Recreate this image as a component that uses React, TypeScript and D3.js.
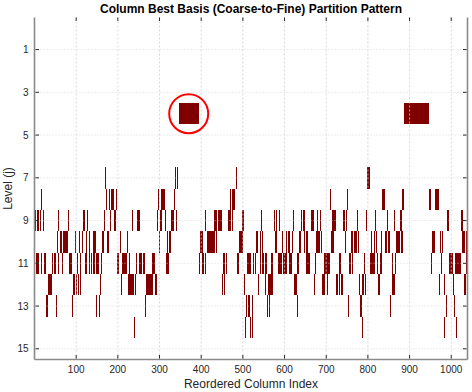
import React from "react";
import * as d3 from "d3";

const titleText = "Column Best Basis (Coarse-to-Fine) Partition Pattern";
const xLabelText = "Reordered Column Index";
const yLabelText = "Level (j)";

const xTicks = [100, 200, 300, 400, 500, 600, 700, 800, 900, 1000];
const yTicks = [1, 3, 5, 7, 9, 11, 13, 15];

// column index intervals [start, end] per level
const level4: [number, number][] = [[347, 393], [887, 946]];
const level7: [number, number][] = [[169, 171], [338, 339], [342, 343], [483, 485], [798, 804]];
const level8: [number, number][] = [
  [15, 17], [171, 173], [179, 181], [183, 190], [195, 196], [296, 298], [303, 312], [335, 336],
  [469, 471], [473, 480], [709, 711], [750, 751], [834, 839], [883, 886], [947, 951], [961, 970],
];
const level9: [number, number][] = [
  [1, 3], [6, 11], [14, 15], [20, 22], [56, 58], [80, 82], [116, 121], [126, 128], [166, 168],
  [180, 182], [190, 195], [234, 235], [246, 251], [294, 295], [301, 304], [312, 314], [327, 334], [339, 340],
  [409, 411], [431, 436], [441, 449], [464, 471], [474, 475], [499, 501],
  [543, 545], [575, 576], [580, 582], [586, 588], [620, 622], [639, 642], [644, 648], [663, 670], [677, 679], [684, 686],
  [714, 717], [719, 723], [740, 745], [747, 748], [774, 775], [795, 797], [817, 819], [846, 847], [862, 863], [876, 881],
  [990, 993], [1023, 1027],
];
const level10: [number, number][] = [
  [54, 55], [61, 66], [68, 80], [97, 99], [106, 107], [115, 116], [124, 126], [131, 133], [141, 147], [162, 166], [174, 178],
  [204, 207], [222, 223], [299, 300], [317, 319], [322, 326],
  [397, 404], [413, 431], [435, 437], [491, 500], [531, 535],
  [541, 543], [546, 547], [577, 581], [593, 595], [603, 605], [609, 611], [618, 619], [635, 639], [646, 647], [651, 655],
  [676, 679], [681, 684], [688, 690],
  [711, 713], [715, 718], [745, 747], [759, 764], [767, 773], [776, 778], [807, 809], [814, 815], [819, 820], [831, 832],
  [840, 846], [848, 851], [867, 877], [880, 883],
  [954, 960], [973, 975], [978, 979], [1027, 1031], [1036, 1039],
];
const level11: [number, number][] = [
  [3, 5], [7, 9], [15, 18], [23, 27], [42, 44], [47, 51], [56, 58], [66, 67], [82, 90], [102, 103], [109, 110],
  [121, 126], [130, 132], [135, 138], [141, 144], [148, 153], [160, 162],
  [198, 203], [210, 221], [226, 227], [243, 245], [250, 257], [260, 264], [283, 288], [315, 317], [319, 322],
  [395, 396], [403, 405], [410, 411], [452, 457], [460, 462], [485, 489], [509, 518], [524, 526], [528, 530],
  [540, 542], [547, 550], [554, 557], [568, 571], [584, 587], [589, 593], [596, 606], [611, 617], [631, 633],
  [651, 653], [655, 659], [674, 675], [694, 702], [703, 706],
  [707, 709], [730, 731], [733, 735], [755, 759], [763, 764], [791, 792], [805, 808], [810, 815], [822, 824], [829, 833],
  [858, 859], [864, 867],
  [951, 953], [975, 977], [995, 1003], [1009, 1012], [1014, 1023], [1035, 1038],
];
const level12: [number, number][] = [
  [32, 42], [92, 97], [99, 101], [104, 107], [110, 111], [157, 159],
  [207, 209], [224, 227], [228, 233], [235, 237], [240, 243], [268, 283], [289, 293],
  [450, 451], [455, 457], [503, 504],
  [536, 538], [552, 554], [561, 564], [566, 571], [622, 630], [671, 672], [690, 695], [701, 703],
  [723, 728], [731, 733], [735, 740], [779, 780], [787, 790], [793, 795], [824, 829], [857, 858], [861, 863],
  [970, 971], [982, 983], [1004, 1006], [1031, 1035],
];
const level13: [number, number][] = [
  [27, 32], [51, 53], [90, 91], [147, 149], [154, 156], [265, 267],
  [507, 509], [513, 515], [521, 523], [558, 559], [562, 563], [629, 631],
  [752, 754], [781, 785], [853, 855], [987, 989], [1007, 1008],
];
const level14: [number, number][] = [
  [238, 240], [505, 507], [516, 518], [521, 523], [786, 787], [983, 984], [1011, 1013],
];

const levelValues = [4, 7, 8, 9, 10, 11, 12, 13, 14];
const levelBars = [level4, level7, level8, level9, level10, level11, level12, level13, level14];

const highlightCenter = [370, 4];

const W = 472;
const H = 392;
const left = 34.5;
const right = 467.5;
const top = 17.5;
const bottom = 359.5;

export default function App() {
  const x = d3.scaleLinear().domain([0, 1039]).range([left, right]);
  const y = d3.scaleLinear().domain([-0.5, 15.5]).range([top, bottom]);
  const font = "'Liberation Sans', Arial, Helvetica, sans-serif";
  const barColor = "#800000";

  const rects: JSX.Element[] = [];
  levelValues.forEach((lv, li) => {
    levelBars[li].forEach(([s, e], bi) => {
      const x0 = x(s);
      const w = Math.max(1, x(e) - x(s) + 0.4);
      rects.push(
        <rect key={`${lv}-${bi}`} x={x0} y={y(lv - 0.5)} width={w} height={y(lv + 0.5) - y(lv - 0.5)} fill={barColor} />
      );
    });
  });

  const gridColor = "rgba(205,205,205,0.75)";
  return (
    <div style={{ position: "absolute", left: 0, top: 0 }}>
      <svg width={W} height={H} style={{ display: "block", background: "#fff" }} fontFamily={font}>
        <g shapeRendering="crispEdges">{rects}</g>
        {/* grid */}
        <g>
          {xTicks.map((t) => (
            <line key={`gx${t}`} x1={x(t)} x2={x(t)} y1={top} y2={bottom} stroke={gridColor} strokeWidth={1} strokeDasharray="2,2" />
          ))}
          {yTicks.map((t) => (
            <line key={`gy${t}`} x1={left} x2={right} y1={y(t)} y2={y(t)} stroke={gridColor} strokeWidth={1} strokeDasharray="1,2" />
          ))}
        </g>
        {/* highlight circle */}
        <circle cx={x(highlightCenter[0])} cy={y(highlightCenter[1])} r={19.5} fill="none" stroke="#ff0000" strokeWidth={2} />
        {/* axes box */}
        <g stroke="#8a8a8a" strokeWidth={1.6} fill="none">
          <line x1={left} x2={left} y1={top} y2={bottom} />
          <line x1={right} x2={right} y1={top} y2={bottom} />
          <line x1={left} x2={right} y1={bottom} y2={bottom} />
        </g>
        {/* ticks */}
        <g stroke="#262626" strokeWidth={1}>
          {xTicks.map((t) => (
            <g key={`tx${t}`}>
              <line x1={x(t)} x2={x(t)} y1={bottom - 1} y2={bottom - 4.5} />
              <line x1={x(t)} x2={x(t)} y1={top} y2={top + 3.5} />
            </g>
          ))}
          {yTicks.map((t) => (
            <g key={`ty${t}`}>
              <line x1={left + 1} x2={left + 4.5} y1={y(t)} y2={y(t)} />
              <line x1={right - 1} x2={right - 4.5} y1={y(t)} y2={y(t)} />
            </g>
          ))}
        </g>
        {/* tick labels */}
        <g fontSize={10} fill="#262626">
          {xTicks.map((t) => (
            <text key={`lx${t}`} x={x(t)} y={bottom + 13} textAnchor="middle">{t}</text>
          ))}
          {yTicks.map((t) => (
            <text key={`ly${t}`} x={left - 6} y={y(t) + 3.5} textAnchor="end">{t}</text>
          ))}
        </g>
        <text x={(left + right) / 2} y={13} textAnchor="middle" fontSize={12} fontWeight="bold" fill="#000">{titleText}</text>
        <text x={(left + right) / 2} y={388} textAnchor="middle" fontSize={12} fill="#262626">{xLabelText}</text>
        <text transform={`translate(12,${(top + bottom) / 2}) rotate(-90)`} textAnchor="middle" fontSize={12} fill="#262626">{yLabelText}</text>
      </svg>
    </div>
  );
}
